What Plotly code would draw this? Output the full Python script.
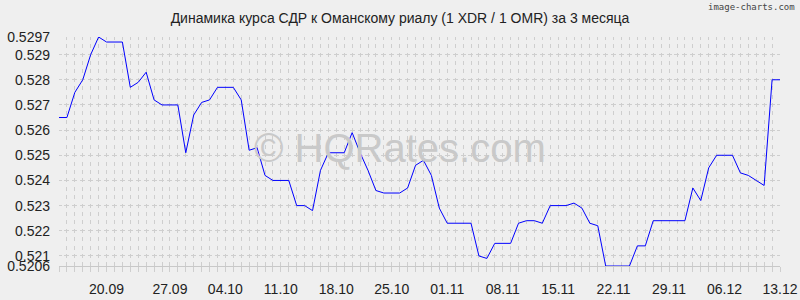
import plotly.graph_objects as go

# Daily rates, 13.09 .. 13.12 (92 points)
values = [
    0.5265, 0.5265, 0.5275, 0.5280, 0.5290, 0.5297, 0.5295, 0.5295, 0.5295, 0.5277,
    0.5279, 0.5283, 0.5272, 0.5270, 0.5270, 0.5270, 0.5251, 0.5266, 0.5271, 0.5272,
    0.5277, 0.5277, 0.5277, 0.5272, 0.5252, 0.5253, 0.5242, 0.5240, 0.5240, 0.5240,
    0.5230, 0.5230, 0.5228, 0.5244, 0.5251, 0.5251, 0.5251, 0.5259, 0.5251, 0.5244,
    0.5236, 0.5235, 0.5235, 0.5235, 0.5237, 0.5246, 0.5248, 0.5242, 0.5229, 0.5223,
    0.5223, 0.5223, 0.5223, 0.5210, 0.5209, 0.5215, 0.5215, 0.5215, 0.5223, 0.5224,
    0.5224, 0.5223, 0.5230, 0.5230, 0.5230, 0.5231, 0.5229, 0.5223, 0.5222, 0.5206,
    0.5206, 0.5206, 0.5206, 0.5214, 0.5214, 0.5224, 0.5224, 0.5224, 0.5224, 0.5224,
    0.5237, 0.5232, 0.5245, 0.5250, 0.5250, 0.5250, 0.5243, 0.5242, 0.5240, 0.5238,
    0.5280, 0.5280,
]
x_index = list(range(len(values)))

x_tick_pos = [6, 14, 21, 28, 35, 42, 49, 56, 63, 70, 77, 84, 91]
x_tick_labels = ["20.09", "27.09", "04.10", "11.10", "18.10", "25.10", "01.11",
                 "08.11", "15.11", "22.11", "29.11", "06.12", "13.12"]

y_tick_vals = [0.5206, 0.521, 0.522, 0.523, 0.524, 0.525, 0.526, 0.527, 0.528, 0.529, 0.5297]
y_tick_labels = ["0.5206", "0.521", "0.522", "0.523", "0.524", "0.525", "0.526",
                 "0.527", "0.528", "0.529", "0.5297"]

title_text = "Динамика курса СДР к Оманскому риалу (1 XDR / 1 OMR) за 3 месяца"

BG = "#EFEFEF"
GRID = "#CECECE"
# vertical grid: ~4px dashes centred on the 1/3-step rows
XDASH = "2.8px,4.388px,1.2px,0px"
# horizontal grid: ~5px dashes centred on the daily vertical lines
YDASH = "2.5px,2.923px,2.5px,0px"

L, R, T, B = 59, 20, 37, 34
pw = 800 - L - R
ph = 300 - T - B

fig = go.Figure()
fig.add_trace(go.Scatter(
    x=x_index, y=values, mode="lines",
    line=dict(color="#0000FF", width=1),
    hoverinfo="skip", showlegend=False,
))

fig.update_layout(
    width=800, height=300,
    margin=dict(l=L, r=R, t=T, b=B, autoexpand=False),
    paper_bgcolor=BG, plot_bgcolor=BG,
    font=dict(family="Liberation Sans, Arial, sans-serif", size=14, color="#222222"),
    title=dict(text=title_text, x=0.5, xanchor="center", y=1 - 18 / 300, yanchor="middle",
               font=dict(size=14, color="#222222")),
    xaxis=dict(
        range=[0, len(values) - 1], automargin=False,
        tickmode="array", tickvals=x_tick_pos, ticktext=x_tick_labels,
        showgrid=True, gridcolor=GRID, griddash=XDASH, gridwidth=1,
        ticks="outside", ticklen=5, tickcolor=GRID,
        showline=True, linecolor="#C8C8C8", linewidth=1,
        zeroline=False, ticklabelstandoff=5,
        minor=dict(tickmode="linear", tick0=0, dtick=1, showgrid=True,
                   gridcolor=GRID, griddash=XDASH, gridwidth=1,
                   ticks="outside", ticklen=5, tickcolor=GRID),
        tickfont=dict(size=14, color="#222222"),
    ),
    yaxis=dict(
        range=[0.5206, 0.5297], automargin=False,
        tickmode="array", tickvals=y_tick_vals, ticktext=y_tick_labels,
        showgrid=True, gridcolor=GRID, griddash=YDASH, gridwidth=1,
        ticks="", showline=False, zeroline=False,
        ticklabelstandoff=8,
        tickfont=dict(size=14, color="#222222"),
    ),
    annotations=[
        dict(text="© HQRates.com", x=(400 - L) / pw, y=(300 - B - 148) / ph,
             xref="paper", yref="paper", showarrow=False,
             font=dict(size=40, color="#C9C9C9",
                       family="Liberation Sans, Arial, sans-serif")),
        dict(text="image-charts.com", x=(797 - L) / pw, y=(300 - B - 7) / ph,
             xref="paper", yref="paper",
             xanchor="right", yanchor="middle", showarrow=False,
             font=dict(size=9, color="#444444", family="DejaVu Sans Mono, monospace")),
    ],
)

fig.write_html("out.html")
